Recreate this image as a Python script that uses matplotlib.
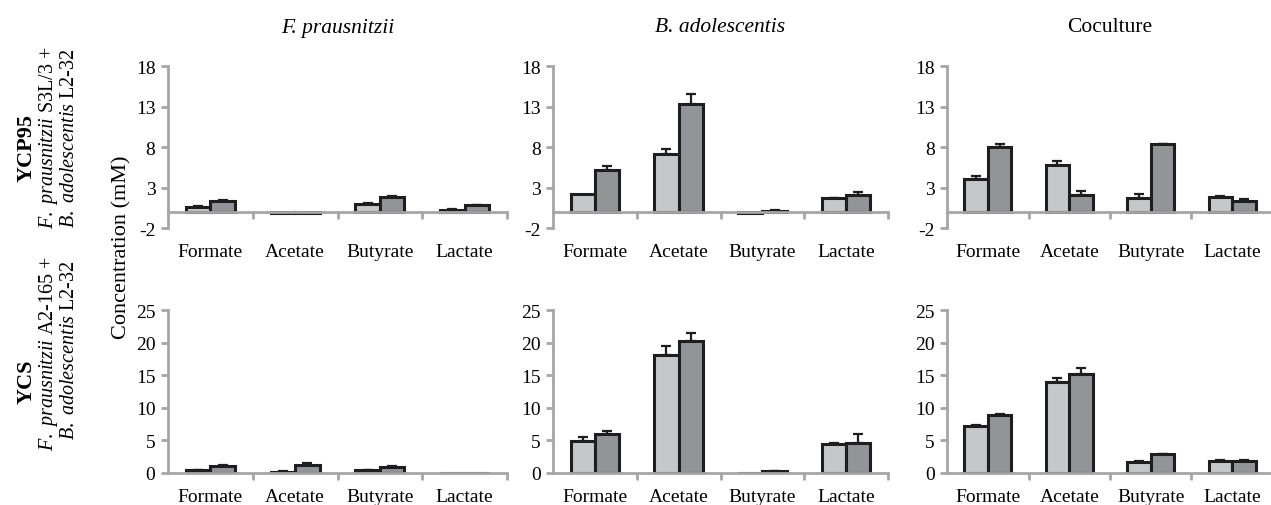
import numpy as np
import matplotlib
matplotlib.use('Agg')
from matplotlib import pyplot as plt

plt.rcParams['font.family'] = ['Liberation Serif', 'DejaVu Serif']
plt.rcParams['mathtext.fontset'] = 'custom'
plt.rcParams['mathtext.rm'] = 'Liberation Serif'
plt.rcParams['mathtext.it'] = 'Liberation Serif:italic'
plt.rcParams['axes.unicode_minus'] = False

categories = ['Formate', 'Acetate', 'Butyrate', 'Lactate']
col_titles = ['F. prausnitzii', 'B. adolescentis', 'Coculture']

# YCP95 row
ycp95_fp_a = [0.6, -0.2, 1.0, 0.25]
ycp95_fp_a_err = [0.15, 0.05, 0.1, 0.1]
ycp95_fp_b = [1.3, -0.2, 1.8, 0.8]
ycp95_fp_b_err = [0.1, 0.05, 0.1, 0.1]

ycp95_ba_a = [2.2, 7.15, -0.2, 1.7]
ycp95_ba_a_err = [0.0, 0.55, 0.0, 0.05]
ycp95_ba_b = [5.1, 13.3, 0.1, 2.1]
ycp95_ba_b_err = [0.55, 1.25, 0.1, 0.35]

ycp95_co_a = [4.1, 5.8, 1.7, 1.87]
ycp95_co_a_err = [0.33, 0.5, 0.5, 0.05]
ycp95_co_b = [8.0, 2.1, 8.35, 1.37]
ycp95_co_b_err = [0.33, 0.5, 0.05, 0.15]

# YCS row
ycs_fp_a = [0.45, 0.2, 0.45, 0.0]
ycs_fp_a_err = [0.05, 0.05, 0.05, 0.0]
ycs_fp_b = [1.07, 1.28, 0.87, 0.0]
ycs_fp_b_err = [0.1, 0.2, 0.15, 0.0]

ycs_ba_a = [4.86, 18.1, -0.05, 4.45]
ycs_ba_a_err = [0.6, 1.43, 0.0, 0.15]
ycs_ba_b = [5.93, 20.2, 0.25, 4.65]
ycs_ba_b_err = [0.55, 1.28, 0.1, 1.28]

ycs_co_a = [7.16, 13.9, 1.74, 1.9]
ycs_co_a_err = [0.25, 0.66, 0.1, 0.05]
ycs_co_b = [8.84, 15.13, 2.9, 1.9]
ycs_co_b_err = [0.2, 0.92, 0.05, 0.05]

panels = [
    [(ycp95_fp_a, ycp95_fp_a_err, ycp95_fp_b, ycp95_fp_b_err),
     (ycp95_ba_a, ycp95_ba_a_err, ycp95_ba_b, ycp95_ba_b_err),
     (ycp95_co_a, ycp95_co_a_err, ycp95_co_b, ycp95_co_b_err)],
    [(ycs_fp_a, ycs_fp_a_err, ycs_fp_b, ycs_fp_b_err),
     (ycs_ba_a, ycs_ba_a_err, ycs_ba_b, ycs_ba_b_err),
     (ycs_co_a, ycs_co_a_err, ycs_co_b, ycs_co_b_err)],
]

W, H = 1271, 506
fig = plt.figure(figsize=(W / 100, H / 100), dpi=100)

light = '#c6c7c9'
dark = '#939498'
edge = '#1e1e1e'
axis_grey = '#a6a6a6'

col_px = [(168, 339), (553, 335), (947, 326)]
row_px = [(67, 229), (311, 474)]
row_lims = [(-2, 18), (0, 25)]
row_ticks = [[-2, 3, 8, 13, 18], [0, 5, 10, 15, 20, 25]]

x = np.arange(len(categories))
bw = 0.29

for r in range(2):
    top, bot = row_px[r]
    for c in range(3):
        left, width = col_px[c]
        ax = fig.add_axes([left / W, 1 - bot / H, width / W, (bot - top) / H])
        a, a_err, b, b_err = panels[r][c]
        for off, vals, errs, colr in [(-bw / 2, a, a_err, light), (bw / 2, b, b_err, dark)]:
            vals = np.array(vals)
            errs = np.array(errs)
            ax.bar(x + off, vals, bw, color=colr, edgecolor=edge, linewidth=2.2, zorder=1)
            m = errs > 0
            ax.errorbar((x + off)[m], vals[m], yerr=[np.zeros(m.sum()), errs[m]], fmt='none',
                        ecolor=edge, elinewidth=1.6, capsize=3.6, capthick=1.6, zorder=2)
        ax.set_xlim(-0.5, 3.5)
        ax.set_ylim(*row_lims[r])
        ax.set_yticks(row_ticks[r])
        ax.set_xticks(x)
        ax.set_xticklabels(categories)
        ax.set_xticks(x + 0.5, minor=True)
        for s in ['right', 'bottom']:
            ax.spines[s].set_visible(False)
        ax.spines['left'].set_color(axis_grey)
        ax.spines['left'].set_linewidth(2)
        ax.spines['top'].set_position(('data', 0))
        ax.spines['top'].set_color(axis_grey)
        ax.spines['top'].set_linewidth(2)
        ax.tick_params(axis='x', which='major', length=0, pad=11, labelsize=14,
                       top=False, bottom=True)
        ax.tick_params(axis='x', which='minor', top=True, bottom=False, direction='in',
                       length=5, width=2, color=axis_grey)
        ax.tick_params(axis='y', length=5, width=2, color=axis_grey, labelsize=14, pad=4)

for c in range(3):
    left, width = col_px[c]
    style = 'italic' if c < 2 else 'normal'
    fig.text((left + width / 2) / W, 1 - 28 / H, col_titles[c], ha='center', va='center',
             fontsize=15.5, fontstyle=style)

fig.text(122 / W, 1 - 247 / H, 'Concentration (mM)', rotation=90, ha='center', va='center',
         fontsize=16)

fig.text(27 / W, 1 - 148 / H, 'YCP95', rotation=90, ha='center', va='center',
         fontsize=16, fontweight='bold')
fig.text(49 / W, 1 - 138 / H, r'$\mathit{F.\ prausnitzii}$ S3L/3 +', rotation=90,
         ha='center', va='center', fontsize=14.5)
fig.text(70 / W, 1 - 138 / H, r'$\mathit{B.\ adolescentis}$ L2-32', rotation=90,
         ha='center', va='center', fontsize=14.5)

fig.text(27 / W, 1 - 382 / H, 'YCS', rotation=90, ha='center', va='center',
         fontsize=16, fontweight='bold')
fig.text(49 / W, 1 - 353 / H, r'$\mathit{F.\ prausnitzii}$ A2-165 +', rotation=90,
         ha='center', va='center', fontsize=14.5)
fig.text(70 / W, 1 - 350 / H, r'$\mathit{B.\ adolescentis}$ L2-32', rotation=90,
         ha='center', va='center', fontsize=14.5)

fig.savefig('out.png', dpi=100)
